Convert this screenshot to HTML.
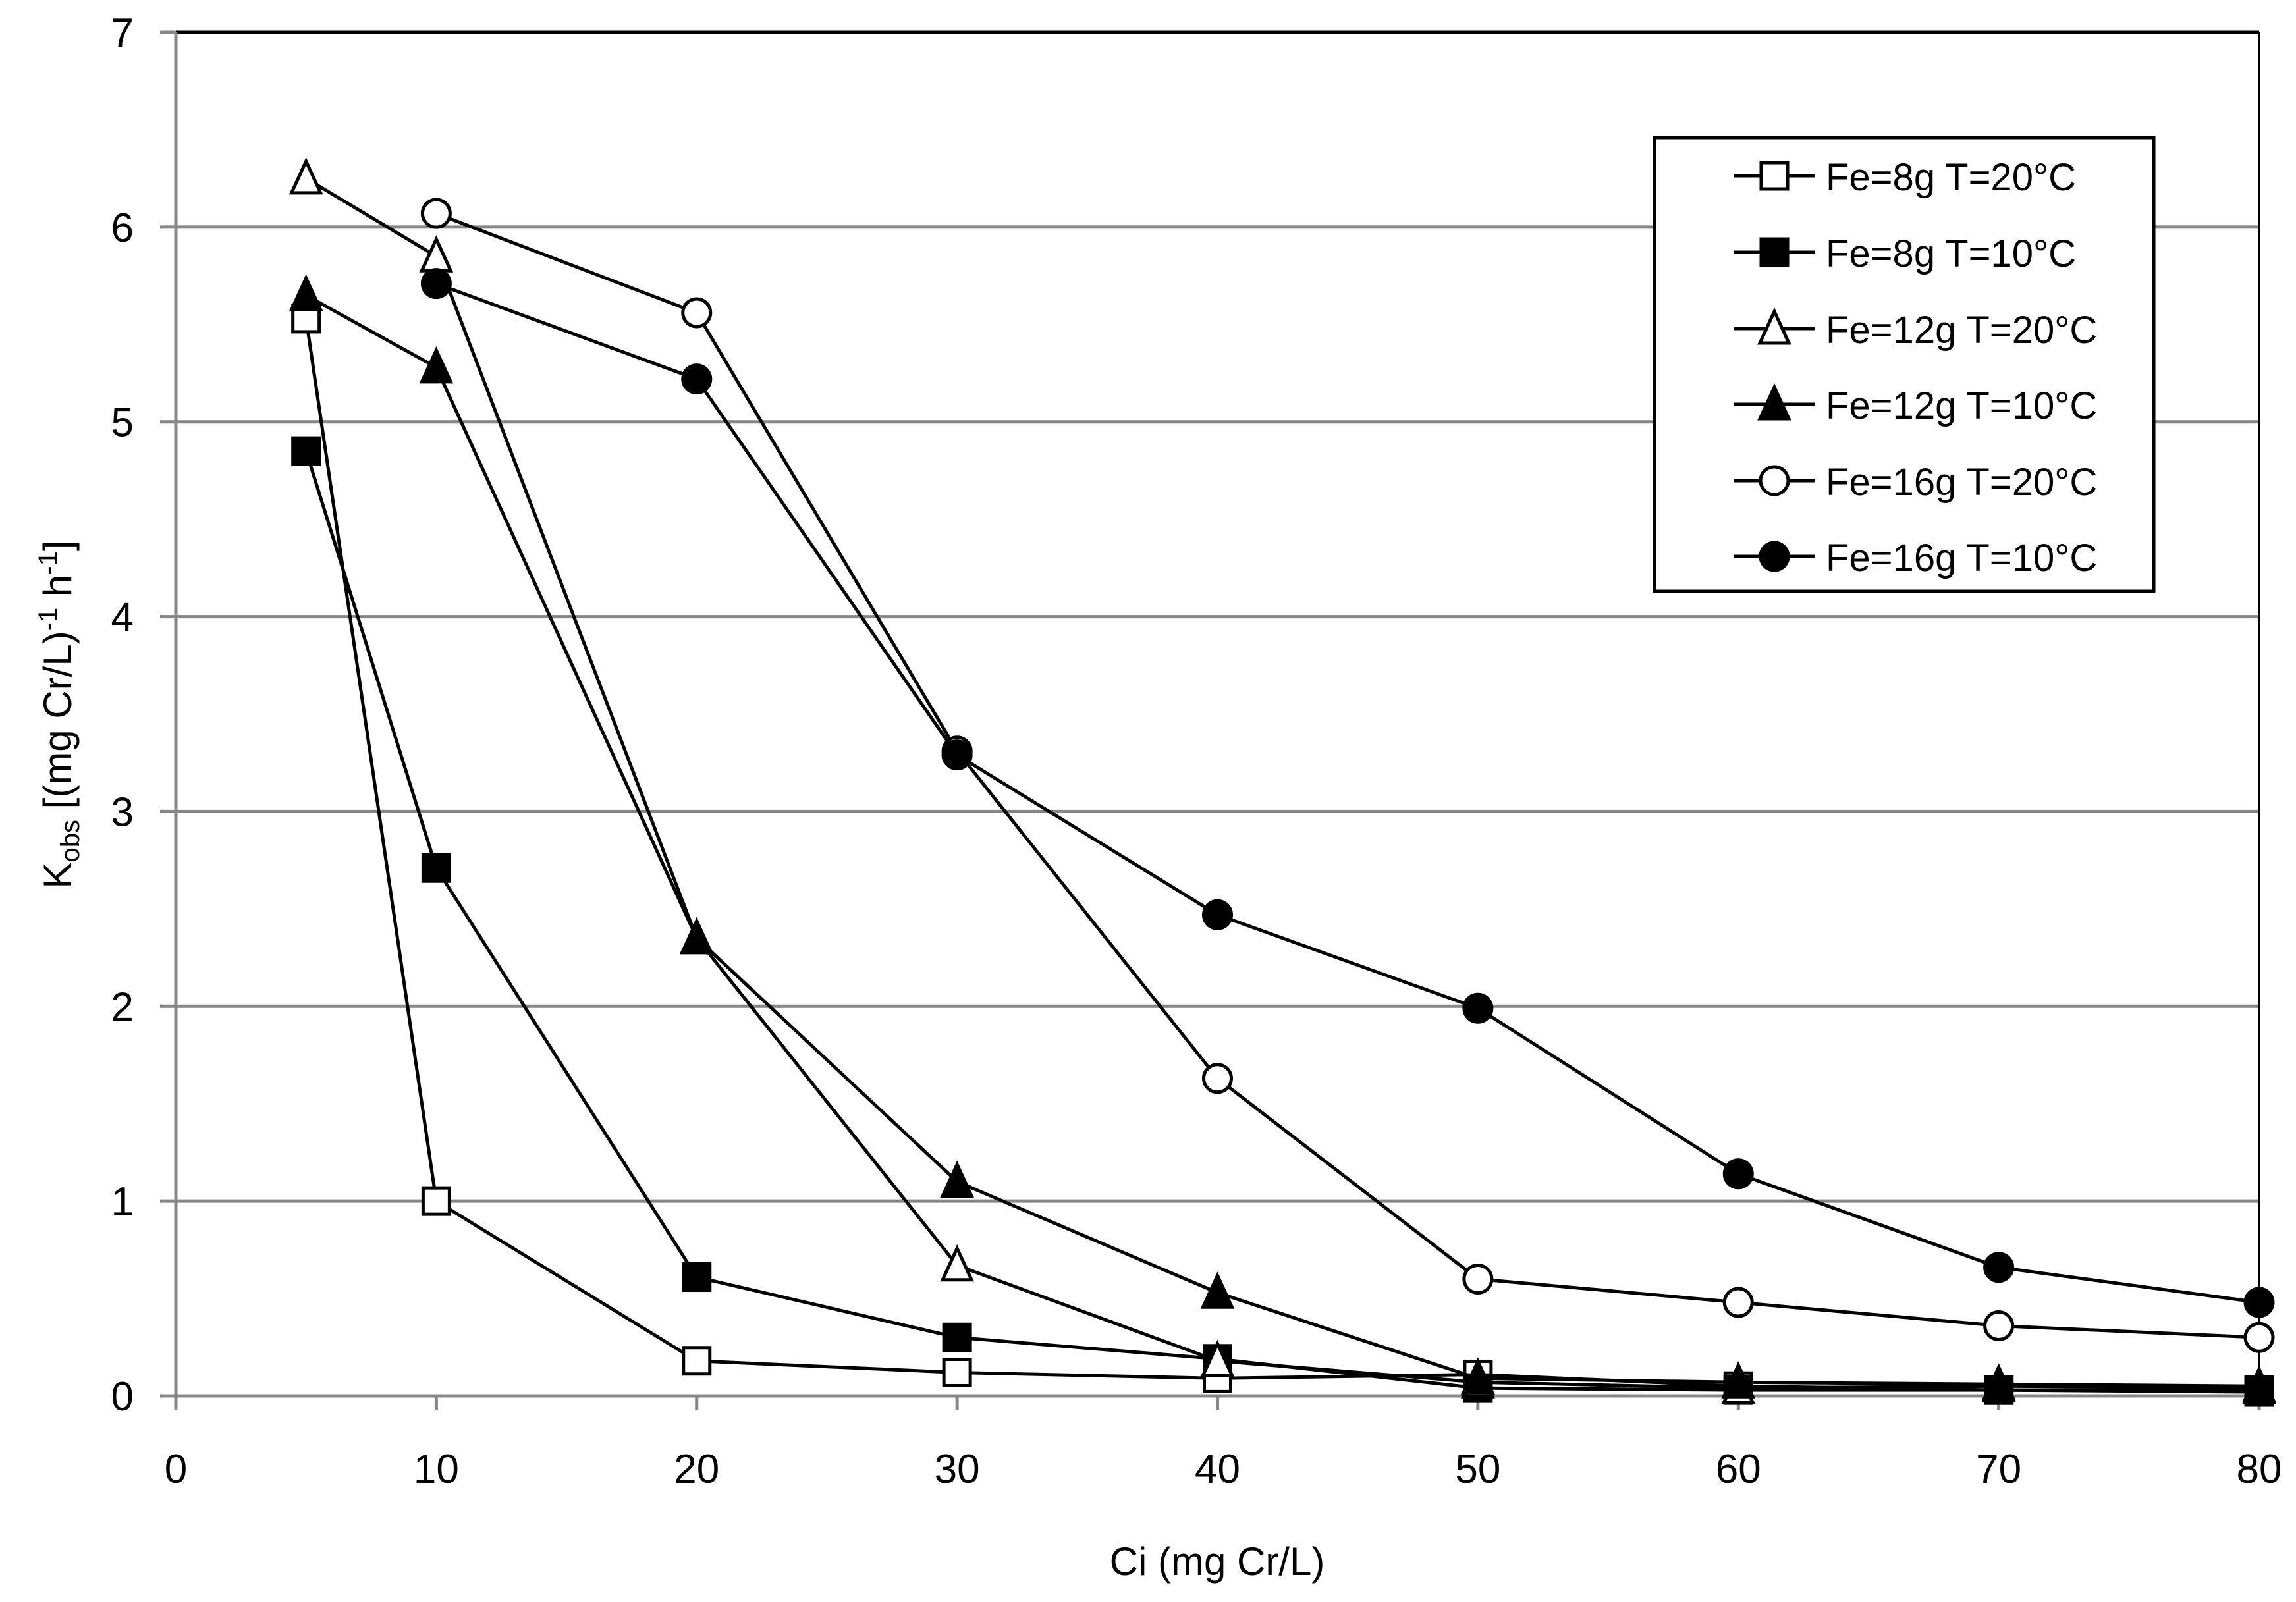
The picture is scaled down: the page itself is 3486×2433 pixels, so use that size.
<!DOCTYPE html>
<html><head><meta charset="utf-8"><style>
html,body{margin:0;padding:0;background:#fff}
svg{display:block}
text{font-family:"Liberation Sans",sans-serif;fill:#000}
</style></head><body>
<svg id="chart" width="3486" height="2433" viewBox="0 0 3486 2433" xmlns="http://www.w3.org/2000/svg">
<g id="grid"></g>
<g id="axes"></g>
<g id="series"></g>
<g id="legend"></g>
<text x="1848" y="2392" font-size="60" text-anchor="middle">Ci (mg Cr/L)</text>
<text transform="translate(108,1085) rotate(-90)" font-size="60" text-anchor="middle">K<tspan font-size="40" dy="12">obs</tspan><tspan dy="-12"> [(mg Cr/L)</tspan><tspan font-size="40" dy="-22">-1</tspan><tspan dy="22"> h</tspan><tspan font-size="40" dy="-22">-1</tspan><tspan dy="22">]</tspan></text>
</svg>
<script>
const xCategories = [5,10,20,30,40,50,60,70,80];
const xTicks = [0,10,20,30,40,50,60,70,80];
const yTicks = [0,1,2,3,4,5,6,7];
const fe8T20 = [5.53,1.0,0.18,0.12,0.09,0.11,0.05,0.03,0.02];
const fe8T10 = [4.85,2.71,0.61,0.30,0.19,0.04,0.03,0.03,0.03];
const fe12T20 = [6.25,5.85,2.35,0.67,0.18,0.07,0.04,0.05,0.04];
const fe12T10 = [5.65,5.28,2.35,1.10,0.53,0.09,0.07,0.06,0.05];
const fe16T20 = [null,6.07,5.56,3.31,1.63,0.60,0.48,0.36,0.30];
const fe16T10 = [null,5.71,5.22,3.29,2.47,1.99,1.14,0.66,0.48];
const seriesLabels = ["Fe=8g T=20°C","Fe=8g T=10°C","Fe=12g T=20°C","Fe=12g T=10°C","Fe=16g T=20°C","Fe=16g T=10°C"];

const NS="http://www.w3.org/2000/svg";
const L=267,R=3430,T=49,B=2120;
const X=v=>L+(v/80)*(R-L);
const Y=v=>B-(v/7)*(B-T);
function mk(tag,attrs,parent){const e=document.createElementNS(NS,tag);for(const k in attrs)e.setAttribute(k,attrs[k]);parent.appendChild(e);return e;}
const grid=document.getElementById('grid'),axes=document.getElementById('axes'),ser=document.getElementById('series'),leg=document.getElementById('legend');
yTicks.forEach(t=>{
  const ln=mk('line',{x1:243,x2:R,y1:Y(t),y2:Y(t),stroke:'#868686','stroke-width':5},grid);
  
  
  const tx=mk('text',{x:203,y:Y(t)+22,'font-size':62,'text-anchor':'end'},axes);
  tx.textContent=t;
  
  
});
const topBorder=mk('line',{x1:L,x2:R,y1:T,y2:T,stroke:'#000','stroke-width':5},axes);


const rb=mk('line',{x1:R,x2:R,y1:T,y2:B,stroke:'#000','stroke-width':3},axes);


const ya=mk('line',{x1:L,x2:L,y1:T,y2:B+22,stroke:'#868686','stroke-width':5},axes);


xTicks.forEach(t=>{
  const tk=mk('line',{x1:X(t),x2:X(t),y1:B,y2:B+22,stroke:'#868686','stroke-width':5},axes);
  
  
  const tx=mk('text',{x:X(t),y:2252,'font-size':62,'text-anchor':'middle'},axes);
  tx.textContent=t;
  
  
});
function marker(type,cx,cy,parent){
  let e;
  const s=20;
  if(type==='sq'||type==='sqf') e=mk('rect',{x:cx-s,y:cy-s,width:2*s,height:2*s},parent);
  else if(type==='tri'||type==='trif') e=mk('polygon',{points:`${cx},${cy-26} ${cx+22},${cy+22} ${cx-22},${cy+22}`},parent);
  else e=mk('circle',{cx:cx,cy:cy,r:21},parent);
  const filled=type.endsWith('f');
  e.setAttribute('fill',filled?'#000':'#fff');
  e.setAttribute('stroke','#000');
  e.setAttribute('stroke-width',5);
  return e;
}
const allSeries=[[fe8T20,'sq','fe8-t20'],[fe8T10,'sqf','fe8-t10'],[fe12T20,'tri','fe12-t20'],[fe12T10,'trif','fe12-t10'],[fe16T20,'cir','fe16-t20'],[fe16T10,'cirf','fe16-t10']];
allSeries.forEach(([vals,type,name])=>{
  const g=mk('g',{},ser);
  
  
  const pts=[];
  vals.forEach((v,i)=>{if(v!==null)pts.push([X(xCategories[i]),Y(v)]);});
  const pl=mk('polyline',{points:pts.map(p=>p.join(',')).join(' '),fill:'none',stroke:'#000','stroke-width':5,'stroke-linejoin':'round'},g);
  
  
  pts.forEach(p=>{
    const m=marker(type,p[0],p[1],g);
    
    
  });
});
const box=mk('rect',{x:2512,y:209,width:758,height:689,fill:'#fff',stroke:'#000','stroke-width':5},leg);


const rowsY=[267,383,499,614,730,845];
allSeries.forEach(([vals,type,name],i)=>{
  const g=mk('g',{},leg);
  
  
  const y=rowsY[i];
  mk('line',{x1:2632,x2:2755,y1:y,y2:y,stroke:'#000','stroke-width':5},g);
  marker(type,2694,y,g);
  const tx=mk('text',{x:2772,y:y+22,'font-size':58},g);
  tx.textContent=seriesLabels[i];
  
  
});
</script>
</body></html>
